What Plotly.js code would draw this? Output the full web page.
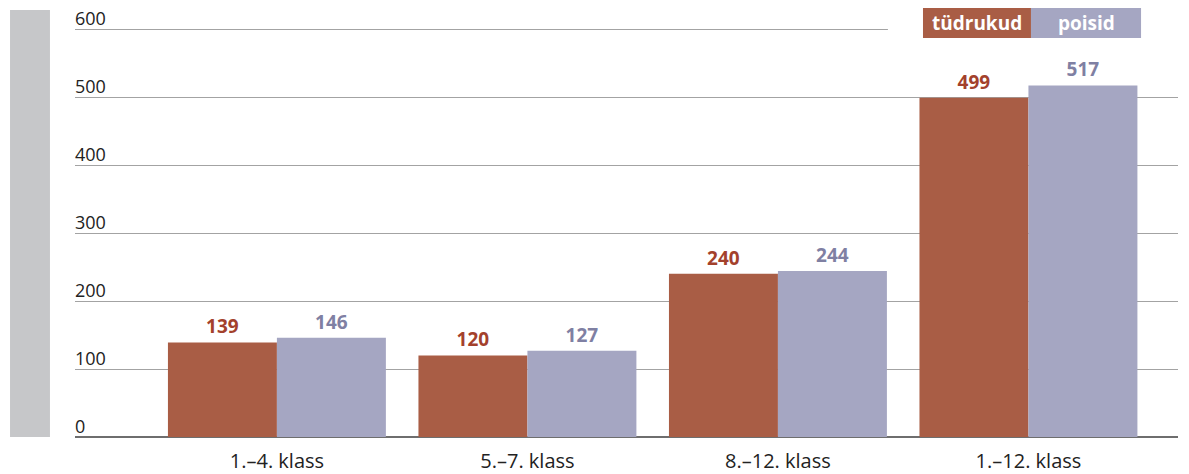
<!DOCTYPE html>
<html><head><meta charset="utf-8">
<script src="https://cdn.plot.ly/plotly-3.0.1.min.js"></script>
<style>html,body{margin:0;padding:0;background:#fff;}#chart{width:1189px;height:474px;}</style>
</head><body><div id="chart"></div>
<script>
const categories = ["1.–4. klass", "5.–7. klass", "8.–12. klass", "1.–12. klass"];
const girls = [139, 120, 240, 499];
const boys = [146, 127, 244, 517];
const seriesNames = ["tüdrukud", "poisid"];
const yTicks = [0, 100, 200, 300, 400, 500, 600];

const red = "#a95d45", blue = "#a5a6c2";
const redText = "#a3412c", blueText = "#7f80a3";
const FONT = "'Open Sans', 'Noto Sans', sans-serif";

const traces = [
  {type: "bar", name: seriesNames[0], x: categories, y: girls, marker: {color: red},
   text: girls.map(String), textposition: "outside", cliponaxis: false,
   textfont: {color: redText, size: 19, family: FONT, weight: 700}, hoverinfo: "x+y"},
  {type: "bar", name: seriesNames[1], x: categories, y: boys, marker: {color: blue},
   text: boys.map(String), textposition: "outside", cliponaxis: false,
   textfont: {color: blueText, size: 19, family: FONT, weight: 700}, hoverinfo: "x+y"}
];

const yLabelAnns = yTicks.map(v => ({
  xref: "paper", yref: "y", x: 0, y: v, text: String(v), showarrow: false,
  xanchor: "left", yanchor: "bottom", yshift: -3, xshift: -2,
  font: {size: 18, color: "#222", family: FONT}
}));

const layout = {
  width: 1189, height: 474,
  margin: {l: 75, r: 11, t: 26, b: 37},
  paper_bgcolor: "#fff", plot_bgcolor: "#fff",
  barmode: "group", bargap: 0.13, bargroupgap: 0,
  showlegend: false,
  font: {family: FONT, color: "#222"},
  xaxis: {type: "category", range: [-0.806, 3.597], showgrid: false, zeroline: false,
          ticks: "", showline: false, tickfont: {size: 20, color: "#222", family: FONT},
          ticklabelstandoff: 10},
  yaxis: {range: [0, 604.41], tickvals: yTicks, showticklabels: false,
          showgrid: true, gridcolor: "#a3a3a3", gridwidth: 1,
          zeroline: true, zerolinecolor: "#6e6e6e", zerolinewidth: 1.5,
          showline: false, ticks: ""},
  shapes: [
    {type: "rect", xref: "paper", yref: "paper", x0: -0.0589, x1: -0.0227, y0: 0, y1: 1.0389,
     fillcolor: "#c6c7c9", line: {width: 0}, layer: "above"},
    {type: "rect", xref: "paper", yref: "paper", x0: 0.737, x1: 1.0, y0: 0.985, y1: 1.0,
     fillcolor: "#fff", line: {width: 0}, layer: "above"},
    {type: "rect", xref: "paper", yref: "paper", x0: 0.7688, x1: 0.8667, y0: 0.9708, y1: 1.0438,
     fillcolor: red, line: {width: 0}, layer: "above"},
    {type: "rect", xref: "paper", yref: "paper", x0: 0.8667, x1: 0.9665, y0: 0.9708, y1: 1.0438,
     fillcolor: blue, line: {width: 0}, layer: "above"}
  ],
  annotations: yLabelAnns.concat([
    {xref: "paper", yref: "paper", x: 0.8177, y: 1.0073, text: seriesNames[0], showarrow: false,
     font: {color: "#fff", size: 19, family: FONT, weight: 700}, xanchor: "center", yanchor: "middle"},
    {xref: "paper", yref: "paper", x: 0.9166, y: 1.0073, text: seriesNames[1], showarrow: false,
     font: {color: "#fff", size: 19, family: FONT, weight: 700}, xanchor: "center", yanchor: "middle"}
  ])
};

Plotly.newPlot("chart", traces, layout, {displayModeBar: false, responsive: false});
</script></body></html>
